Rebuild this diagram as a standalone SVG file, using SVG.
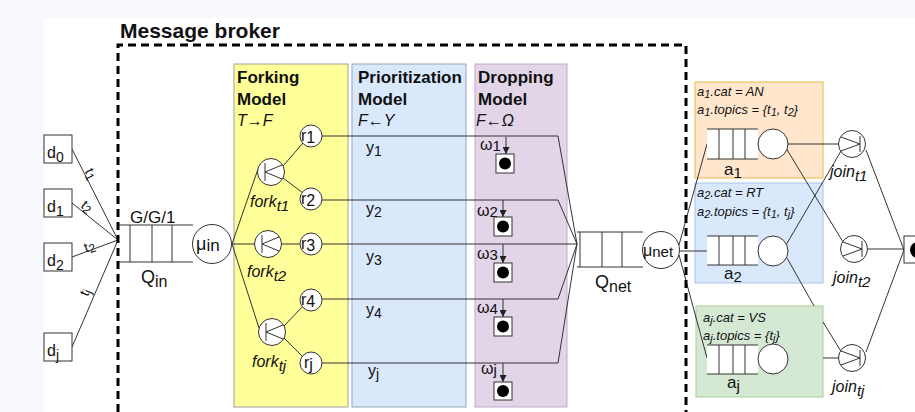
<svg xmlns="http://www.w3.org/2000/svg" width="915" height="412" viewBox="0 0 915 412">
<defs>
<style>
.t{font-family:"Liberation Sans",Arial,Helvetica,sans-serif;fill:#111}
.b{font-weight:bold}
.i{font-style:italic}
.ln{stroke:#333;stroke-width:1;fill:none}
.nd{fill:#fff;stroke:#333;stroke-width:1}
.dot{fill:#000}
</style>
<marker id="ah" viewBox="0 0 7 7" refX="7" refY="3.5" markerWidth="7" markerHeight="7" orient="auto" markerUnits="userSpaceOnUse"><path d="M0,0 L7,3.5 L0,7 z" fill="#222"/></marker>
</defs>
<rect width="915" height="412" fill="#f8f9fc"/>
<rect x="44" y="18" width="871" height="394" fill="#fff"/>

<g id="broker">
<text class="t b" x="120" y="38" font-size="21">Message broker</text>
</g>

<g id="forking-model">
<rect x="234" y="64" width="114" height="343" fill="#ffff99" stroke="#a0a0a0"/>
<text class="t b" x="237" y="83" font-size="17">Forking</text>
<text class="t b" x="237" y="105" font-size="17">Model</text>
<text class="t i" x="237" y="126" font-size="16">T→F</text>
</g>
<g id="prioritization-model">
<rect x="352" y="64" width="114" height="343" fill="#dae8fc" stroke="#9aa7b8"/>
<text class="t b" x="358" y="83" font-size="17">Prioritization</text>
<text class="t b" x="358" y="105" font-size="17">Model</text>
<text class="t i" x="358" y="126" font-size="16">F←Y</text>
<text class="t" x="366" y="153" font-size="16">y<tspan dy="3" font-size="14">1</tspan></text>
<text class="t" x="366" y="214" font-size="16">y<tspan dy="3" font-size="14">2</tspan></text>
<text class="t" x="366" y="262" font-size="16">y<tspan dy="3" font-size="14">3</tspan></text>
<text class="t" x="366" y="315" font-size="16">y<tspan dy="3" font-size="14">4</tspan></text>
<text class="t" x="368" y="376" font-size="16">y<tspan dy="3" font-size="14">j</tspan></text>
</g>
<g id="dropping-model">
<rect x="475" y="64" width="92" height="343" fill="#e1d5e7" stroke="#c3a8d1"/>
<text class="t b" x="478" y="83" font-size="17">Dropping</text>
<text class="t b" x="478" y="105" font-size="17">Model</text>
<text class="t i" x="476" y="126" font-size="16">F←Ω</text>
</g>

<g id="app-boxes-back">
<rect x="695" y="82" width="128" height="96" fill="#ffe6cc" stroke="#e8b84a"/>
<rect x="695" y="183" width="128" height="100" fill="#dae8fc" stroke="#a9c4eb"/>
<rect x="696" y="306" width="127" height="91" fill="#d5e8d4" stroke="#a9d18e"/>
</g>

<g id="connectors" class="ln">
<path d="M72 149 L118 240 M72 203 L118 240 M72 257 L118 240 M72 347 L118 240"/>
<path d="M232 244 L258 169 M232 244 L255 244 M232 244 L259 328"/>
<path d="M283 166 L303 143 M283 178 L303 193 M281 244 L300 244 M284 326 L303 306 M284 338 L303 357"/>
<path d="M322 136 H558 L577 244 M322 200 H558 L577 244 M322 244 H577 M322 299 H558 L577 244 M322 363 H558 L577 244"/>
<path d="M506 137 V154" marker-end="url(#ah)"/>
<path d="M503 200 V217" marker-end="url(#ah)"/>
<path d="M503 244 V263" marker-end="url(#ah)"/>
<path d="M503 299 V317" marker-end="url(#ah)"/>
<path d="M503 363 V382" marker-end="url(#ah)"/>
<path d="M679 245 L707 144 M679 251 H707 M679 255 L707 358"/>
<path d="M788 144 H839 M786 148 L843 242 M786 245 L841 151 M787 258 L814 306 M823 322 L842 353 M823 358 H839"/>
<path d="M866 150 L904 250 M867 249 H904 M866 352 L904 250"/>
</g>

<g id="line-labels" class="t" font-size="14">
<text transform="translate(87,176) rotate(63)" text-anchor="middle">t<tspan dy="2" font-size="12">1</tspan></text>
<text transform="translate(84,210) rotate(39)" text-anchor="middle">t<tspan dy="2" font-size="12">2</tspan></text>
<text transform="translate(91,251) rotate(-20)" text-anchor="middle">t<tspan dy="2" font-size="12">2</tspan></text>
<text transform="translate(89,294) rotate(-67)" text-anchor="middle">t<tspan dy="2" font-size="12">j</tspan></text>
</g>

<g id="d0"><rect class="nd" x="44" y="135" width="28" height="28"/><text class="t" x="47" y="158" font-size="16">d<tspan dy="4" font-size="14">0</tspan></text></g>
<g id="d1"><rect class="nd" x="44" y="189" width="28" height="28"/><text class="t" x="47" y="212" font-size="16">d<tspan dy="4" font-size="14">1</tspan></text></g>
<g id="d2"><rect class="nd" x="44" y="243" width="28" height="28"/><text class="t" x="47" y="266" font-size="16">d<tspan dy="4" font-size="14">2</tspan></text></g>
<g id="dj"><rect class="nd" x="44" y="333" width="28" height="28"/><text class="t" x="47" y="356" font-size="16">d<tspan dy="4" font-size="14">j</tspan></text></g>

<g id="q-in">
<path class="ln" d="M118 225 H193 M118 262 H193 M130 225 V262 M152 225 V262 M172 225 V262"/>
<text class="t" x="130" y="223" font-size="17">G/G/1</text>
<text class="t" x="141" y="283" font-size="18">Q<tspan dy="4" font-size="16">in</tspan></text>
</g>
<g id="mu-in">
<circle class="nd" cx="212" cy="244" r="19.5"/>
<text class="t" x="196" y="250" font-size="18">μ<tspan dy="1" font-size="17">in</tspan></text>
</g>

<g id="fork-t1">
<circle class="nd" cx="271" cy="172" r="13.5"/>
<path class="ln" d="M265 163 V181 M265 172 L282 165 M265 172 L282 179"/>
<text class="t i" x="250" y="207" font-size="16">fork<tspan dy="4" font-size="15">t1</tspan></text>
</g>
<g id="fork-t2">
<circle class="nd" cx="268" cy="244" r="13.5"/>
<path class="ln" d="M262 235 V253 M262 244 L279 237 M262 244 L279 251"/>
<text class="t i" x="247" y="277" font-size="16">fork<tspan dy="4" font-size="15">t2</tspan></text>
</g>
<g id="fork-tj">
<circle class="nd" cx="272" cy="332" r="13.5"/>
<path class="ln" d="M266 323 V341 M266 332 L283 325 M266 332 L283 339"/>
<text class="t i" x="252" y="367" font-size="16">fork<tspan dy="4" font-size="15">tj</tspan></text>
</g>

<g id="r1"><circle class="nd" cx="311" cy="136" r="11"/><text class="t" x="301" y="141" font-size="16">r<tspan dy="2">1</tspan></text></g>
<g id="r2"><circle class="nd" cx="311" cy="199" r="11"/><text class="t" x="301" y="204" font-size="16">r<tspan dy="2">2</tspan></text></g>
<g id="r3"><circle class="nd" cx="311" cy="244" r="11"/><text class="t" x="301" y="249" font-size="16">r<tspan dy="2">3</tspan></text></g>
<g id="r4"><circle class="nd" cx="311" cy="300" r="11"/><text class="t" x="301" y="305" font-size="16">r<tspan dy="2">4</tspan></text></g>
<g id="rj"><circle class="nd" cx="311" cy="363" r="11"/><text class="t" x="304" y="368" font-size="16">r<tspan dy="2">j</tspan></text></g>

<g id="drop1"><text class="t" x="480" y="150" font-size="16">ω<tspan dy="1" font-size="15">1</tspan></text><rect class="nd" x="496" y="154" width="18" height="19"/><circle class="dot" cx="505" cy="163.5" r="6"/></g>
<g id="drop2"><text class="t" x="477" y="216" font-size="16">ω<tspan dy="1" font-size="15">2</tspan></text><rect class="nd" x="494" y="217" width="18" height="19"/><circle class="dot" cx="503" cy="226.5" r="6"/></g>
<g id="drop3"><text class="t" x="477" y="259" font-size="16">ω<tspan dy="1" font-size="15">3</tspan></text><rect class="nd" x="494" y="263" width="18" height="19"/><circle class="dot" cx="503" cy="272.5" r="6"/></g>
<g id="drop4"><text class="t" x="477" y="313" font-size="16">ω<tspan dy="1" font-size="15">4</tspan></text><rect class="nd" x="494" y="317" width="18" height="19"/><circle class="dot" cx="503" cy="326.5" r="6"/></g>
<g id="dropj"><text class="t" x="481" y="374" font-size="16">ω<tspan dy="1" font-size="15">j</tspan></text><rect class="nd" x="494" y="382" width="18" height="18"/><circle class="dot" cx="503" cy="391" r="6"/></g>

<g id="q-net">
<path class="ln" d="M577 232 H643 M577 267 H643 M580 232 V267 M602 232 V267 M622 232 V267"/>
<text class="t" x="595" y="288" font-size="18">Q<tspan dy="4" font-size="16">net</tspan></text>
</g>
<g id="mu-net">
<circle class="nd" cx="661" cy="250" r="18.5"/>
<text class="t" x="643" y="256" font-size="16">μ<tspan dy="1" font-size="15">net</tspan></text>
</g>

<g id="broker-frame">
<path d="M118 412 V45 H686 V412" fill="none" stroke="#000" stroke-width="3" stroke-dasharray="8 5"/>
</g>

<g id="a1">
<text class="t i" x="697" y="96" font-size="13">a<tspan dy="2" font-size="11">1</tspan><tspan dy="-2">.cat = AN</tspan></text>
<text class="t i" x="697" y="114" font-size="13">a<tspan dy="2" font-size="11">1</tspan><tspan dy="-2">.topics = {t</tspan><tspan dy="2" font-size="11">1</tspan><tspan dy="-2">, t</tspan><tspan dy="2" font-size="11">2</tspan><tspan dy="-2">}</tspan></text>
<rect x="707" y="129" width="51" height="30" fill="#fff"/>
<path class="ln" d="M707 129 H758 M707 159 H758 M719 129 V159 M733 129 V159 M745 129 V159"/>
<circle class="nd" cx="773" cy="144" r="15"/>
<text class="t" x="724" y="175" font-size="17">a<tspan dy="3" font-size="15">1</tspan></text>
</g>
<g id="a2">
<text class="t i" x="697" y="197" font-size="13">a<tspan dy="2" font-size="11">2</tspan><tspan dy="-2">.cat = RT</tspan></text>
<text class="t i" x="697" y="216" font-size="13">a<tspan dy="2" font-size="11">2</tspan><tspan dy="-2">.topics = {t</tspan><tspan dy="2" font-size="11">1</tspan><tspan dy="-2">, t</tspan><tspan dy="2" font-size="11">j</tspan><tspan dy="-2">}</tspan></text>
<rect x="707" y="236" width="51" height="29" fill="#fff"/>
<path class="ln" d="M707 236 H758 M707 265 H758 M719 236 V265 M733 236 V265 M745 236 V265"/>
<circle class="nd" cx="773" cy="251" r="15"/>
<text class="t" x="724" y="279" font-size="17">a<tspan dy="3" font-size="15">2</tspan></text>
</g>
<g id="aj">
<text class="t i" x="703" y="322" font-size="13">a<tspan dy="2" font-size="11">j</tspan><tspan dy="-2">.cat = VS</tspan></text>
<text class="t i" x="703" y="340" font-size="13">a<tspan dy="2" font-size="11">j</tspan><tspan dy="-2">.topics = {t</tspan><tspan dy="2" font-size="11">j</tspan><tspan dy="-2">}</tspan></text>
<rect x="707" y="345" width="51" height="29" fill="#fff"/>
<path class="ln" d="M707 345 H758 M707 374 H758 M719 345 V374 M733 345 V374 M745 345 V374"/>
<circle class="nd" cx="773" cy="359" r="15"/>
<text class="t" x="727" y="388" font-size="17">a<tspan dy="3" font-size="15">j</tspan></text>
</g>

<g id="join-t1">
<circle class="nd" cx="852" cy="144" r="13.5"/>
<path class="ln" d="M860 136 V152 M841 137 L860 144 L841 151"/>
<text class="t i" x="830" y="177" font-size="16">join<tspan dy="4" font-size="15">t1</tspan></text>
</g>
<g id="join-t2">
<circle class="nd" cx="854" cy="249" r="13.5"/>
<path class="ln" d="M862 241 V257 M843 242 L862 249 L843 256"/>
<text class="t i" x="833" y="283" font-size="16">join<tspan dy="4" font-size="15">t2</tspan></text>
</g>
<g id="join-tj">
<circle class="nd" cx="852" cy="358" r="13.5"/>
<path class="ln" d="M860 350 V366 M841 351 L860 358 L841 365"/>
<text class="t i" x="832" y="392" font-size="16">join<tspan dy="4" font-size="15">tj</tspan></text>
</g>

<g id="sink">
<rect class="nd" x="904" y="236" width="30" height="27"/>
<circle class="dot" cx="918" cy="250" r="8"/>
</g>
</svg>
